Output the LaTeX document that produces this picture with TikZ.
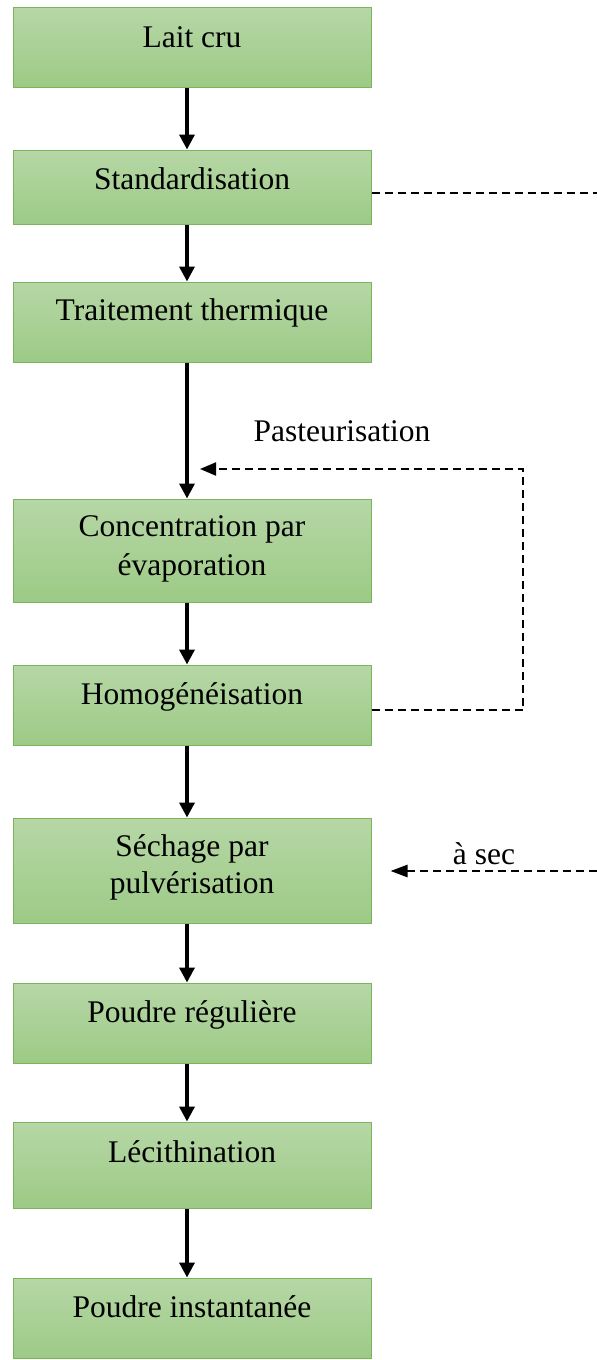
\documentclass[tikz,border=0pt]{standalone}
\usepackage{fontspec}
\setmainfont{Liberation Serif}
\usetikzlibrary{arrows.meta,calc}
\definecolor{gtop}{RGB}{182,215,166}
\definecolor{gbot}{RGB}{157,202,134}
\definecolor{gborder}{RGB}{122,181,92}
\begin{document}
\begin{tikzpicture}[x=1pt,y=-1pt,
  box/.style={draw=gborder, line width=1pt, top color=gtop, bottom color=gbot,
    minimum width=358pt, inner sep=0pt},
  lbl/.style={anchor=base, inner sep=0pt, font=\fontsize{31.5}{38}\selectfont},
  flow/.style={line width=3.5pt, -{Triangle[width=15pt,length=15pt]}},
  fb/.style={line width=2pt, dash pattern=on 8pt off 5pt},
  fbarrow/.style={fb, -{Triangle[width=13pt,length=16pt]}}
]
\useasboundingbox (0,0) rectangle (597,1360);
% boxes: centre x = 192
\node[box, minimum height=80pt]  (b1) at (192,47)   {};
\node[box, minimum height=74pt]  (b2) at (192,187)  {};
\node[box, minimum height=80pt]  (b3) at (192,322)  {};
\node[box, minimum height=103pt] (b4) at (192,550.5) {};
\node[box, minimum height=80pt]  (b5) at (192,705)  {};
\node[box, minimum height=105pt] (b6) at (192,870.5) {};
\node[box, minimum height=80pt]  (b7) at (192,1023) {};
\node[box, minimum height=86pt]  (b8) at (192,1165) {};
\node[box, minimum height=80pt]  (b9) at (192,1318) {};
% labels
\node[lbl] (t1) at ($(b1.north)+(0,41)$) {Lait cru};
\node[lbl] (t2) at ($(b2.north)+(0,40)$) {Standardisation};
\node[lbl] (t3) at ($(b3.north)+(0,39)$) {Traitement thermique};
\node[lbl] (t4a) at ($(b4.north)+(0,38)$) {Concentration par};
\node[lbl] (t4b) at ($(b4.north)+(0,77)$) {évaporation};
\node[lbl] (t5) at ($(b5.north)+(0,40)$) {Homogénéisation};
\node[lbl] (t6a) at ($(b6.north)+(0,39)$) {Séchage par};
\node[lbl] (t6b) at ($(b6.north)+(0,76)$) {pulvérisation};
\node[lbl] (t7) at ($(b7.north)+(0,40)$) {Poudre régulière};
\node[lbl] (t8) at ($(b8.north)+(0,41)$) {Lécithination};
\node[lbl] (t9) at ($(b9.north)+(0,40)$) {Poudre instantanée};
% main flow arrows (x = 187)
\foreach \a/\b in {b1/b2,b2/b3,b3/b4,b4/b5,b5/b6,b6/b7,b7/b8,b8/b9}{
  \draw[flow] ([xshift=-5pt]\a.south) -- ([xshift=-5pt]\b.north);
}
% side dashed lines
\coordinate (sEnd) at (597,193);
\draw[fb] ([yshift=-6pt]b2.east) -- (sEnd);
\coordinate (pc) at (523,469);
\coordinate (pEnd) at (200,469);
\draw[fbarrow] ([yshift=-5pt]b5.east) -| (pc) -- (pEnd);
\node[lbl] (past) at (342,441) {Pasteurisation};
\coordinate (aStart) at (597,871);
\draw[fbarrow, line width=2.5pt, -{Triangle[width=12pt,length=17pt]}] (aStart) -- ([xshift=19pt]b6.east |- aStart);
\node[lbl] (asec) at (484,864) {à sec};
\end{tikzpicture}
\end{document}
